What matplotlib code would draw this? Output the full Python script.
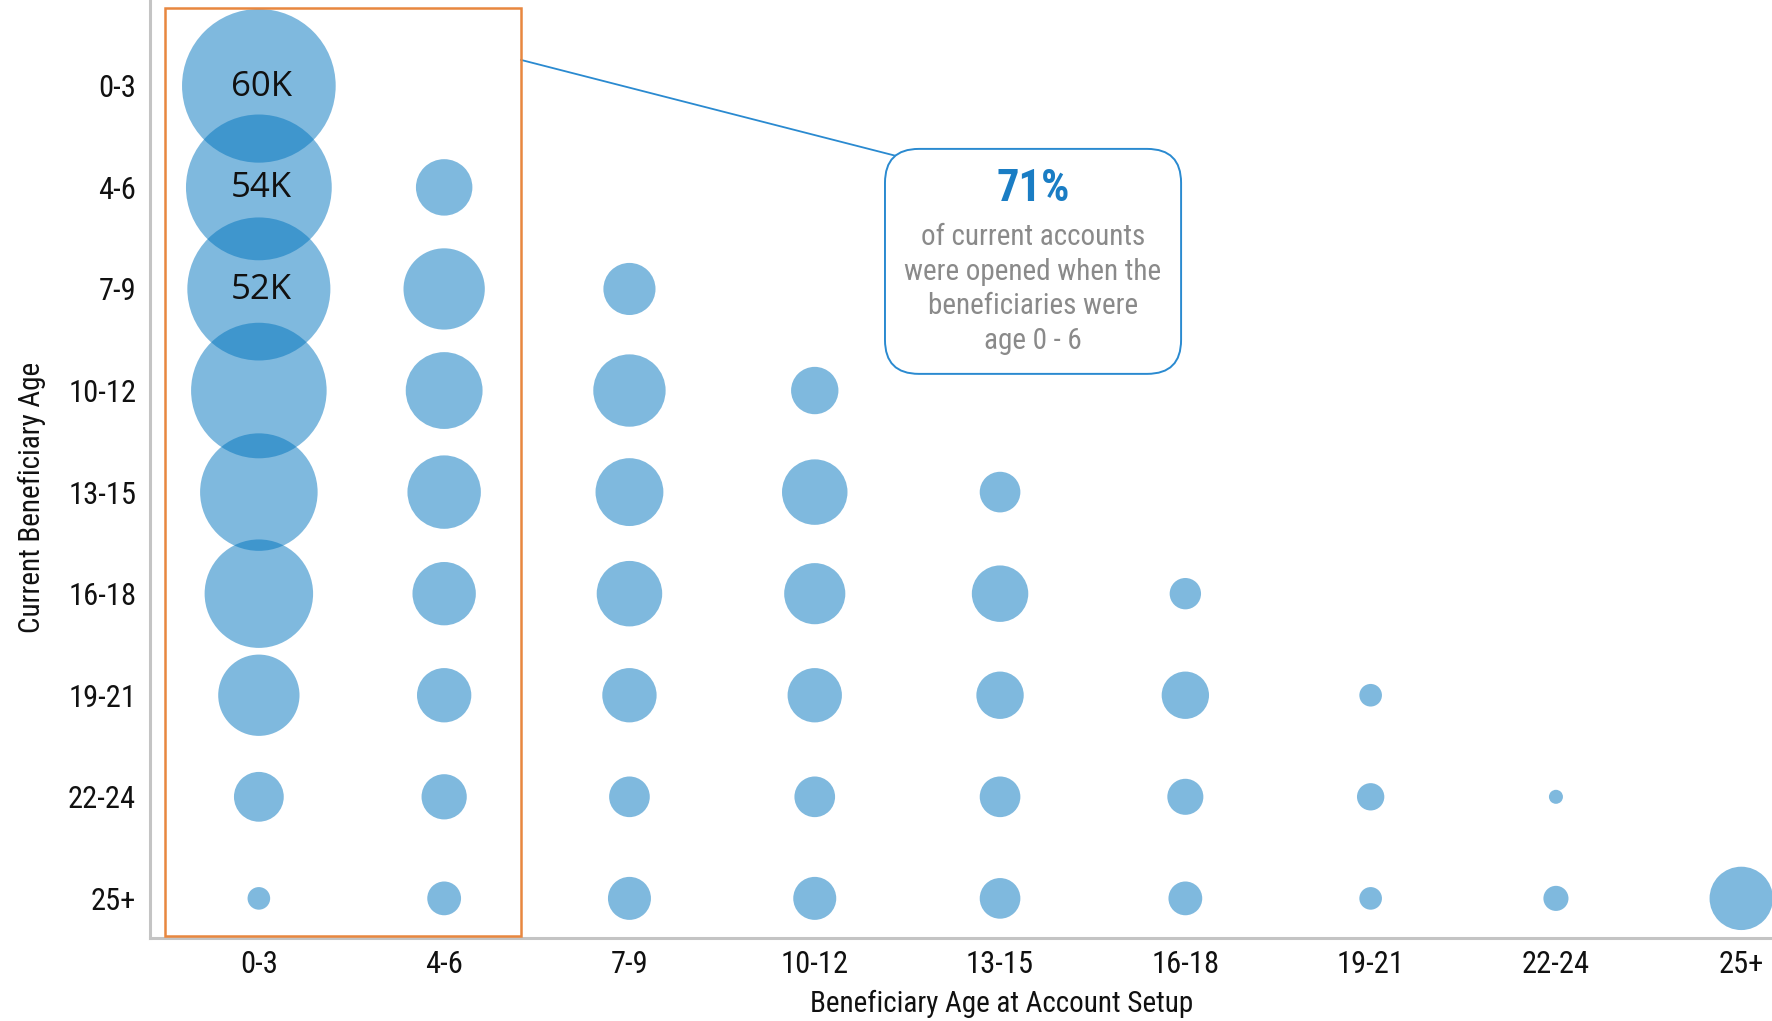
import numpy as np
import matplotlib.pyplot as plt
from matplotlib.patches import Rectangle, FancyBboxPatch

AGE_GROUPS = ['0-3', '4-6', '7-9', '10-12', '13-15', '16-18', '19-21', '22-24', '25+']

# accounts (thousands) per current age row, by age at account setup (0-3, 4-6, ...)
row_0_3 = [60.0]
row_4_6 = [54.0, 8.1]
row_7_9 = [52.0, 16.8, 6.9]
row_10_12 = [46.7, 15.0, 13.3, 5.7]
row_13_15 = [35.1, 13.7, 11.7, 10.9, 4.2]
row_16_18 = [29.9, 10.2, 10.9, 9.5, 8.1, 2.5]
row_19_21 = [16.8, 7.5, 7.5, 7.5, 5.7, 5.7, 1.3]
row_22_24 = [6.3, 5.2, 4.2, 4.2, 4.2, 3.3, 1.9, 0.5]
row_25p = [1.3, 2.9, 4.7, 4.7, 4.2, 2.9, 1.3, 1.6, 10.2]
ROWS = [row_0_3, row_4_6, row_7_9, row_10_12, row_13_15,
        row_16_18, row_19_21, row_22_24, row_25p]

LABELS = {(0, 0): '60K', (1, 0): '54K', (2, 0): '52K'}

plt.rcParams['font.family'] = ['Roboto Condensed', 'DejaVu Sans']
plt.rcParams['font.stretch'] = 'condensed'

xs, ys, vals = [], [], []
for r, row in enumerate(ROWS):
    for c, v in enumerate(row):
        xs.append(c)
        ys.append(r)
        vals.append(v)
xs = np.array(xs)
ys = np.array(ys)
vals = np.array(vals)

fig = plt.figure(figsize=(17.72, 10.21), dpi=100)
ax = fig.add_axes([0.0847, 0.0813, 0.9153, 0.9187])

ax.scatter(xs, ys, s=vals * 204, color='#0074be', alpha=0.5, linewidths=0, zorder=3)

for (r, c), txt in LABELS.items():
    ax.text(c + 0.015, r + 0.01, txt, ha='center', va='center', fontsize=25,
            family=['Open Sans', 'DejaVu Sans'], fontstretch='normal',
            color='#111111', zorder=4)

ax.set_xlim(-0.587, 8.166)
ax.set_ylim(8.39, -0.845)
ax.set_xticks(range(len(AGE_GROUPS)))
ax.set_xticklabels(AGE_GROUPS)
ax.set_yticks(range(len(AGE_GROUPS)))
ax.set_yticklabels(AGE_GROUPS)
ax.tick_params(length=0, labelsize=22, colors='#111111')
ax.tick_params(axis='x', pad=9)
ax.tick_params(axis='y', pad=10)

for side in ['top', 'right']:
    ax.spines[side].set_visible(False)
for side in ['left', 'bottom']:
    ax.spines[side].set_color('#c4c4c4')
    ax.spines[side].set_linewidth(2.2)

ax.set_xlabel('Beneficiary Age at Account Setup', fontsize=21, color='#111111')
ax.set_ylabel('Current Beneficiary Age', fontsize=21, color='#111111')
ax.xaxis.set_label_coords(0.525, -0.055)
ax.yaxis.set_label_coords(-0.064, 0.47)

# highlight the 0-6 setup columns
ax.add_patch(Rectangle((-0.506, -0.767), 1.921, 9.134, fill=False,
                       edgecolor='#e8873f', linewidth=1.8, zorder=5, clip_on=False))

# callout
ax.plot([1.415, 3.439], [-0.255, 0.690], color='#2a8ad0', linewidth=1.3, zorder=2)
ax.add_patch(FancyBboxPatch((3.379, 0.621), 1.598, 2.215,
                            boxstyle='round,pad=0,rounding_size=0.183',
                            mutation_aspect=1.824, facecolor='white',
                            edgecolor='#2a8ad0', linewidth=1.4, zorder=6))
ax.text(4.178, 1.02, '71%', ha='center', va='center', fontsize=32,
        fontweight='bold', color='#1a7dc4', zorder=7)
ax.text(4.178, 2.0, 'of current accounts\nwere opened when the\nbeneficiaries were\nage 0 - 6',
        ha='center', va='center', fontsize=21, color='#8a8a8a',
        linespacing=1.3, zorder=7)

fig.savefig('out.png', dpi=100)
